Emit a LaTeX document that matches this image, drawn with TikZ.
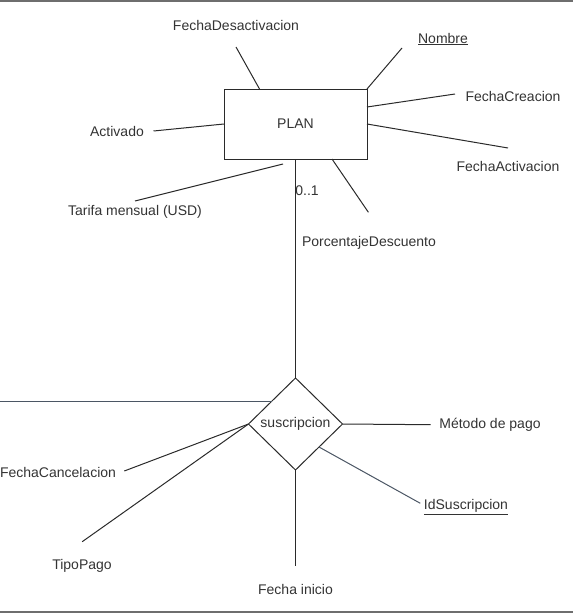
\documentclass[tikz,border=0pt]{standalone}
\usepackage{fontspec}
\setmainfont{Liberation Sans}
\usetikzlibrary{calc, shapes.geometric}

\definecolor{txtgray}{HTML}{333333}
\definecolor{linegray}{HTML}{2A2A2A}
\definecolor{slate}{HTML}{4B5664}
\definecolor{framegray}{HTML}{6E6E6E}

\begin{document}
\begin{tikzpicture}[x=1pt,y=-1pt,
  attr/.style={text=txtgray,font=\fontsize{14}{16}\selectfont,inner sep=0pt},
  link/.style={draw=linegray,line width=1pt},
  entity/.style={draw=linegray,line width=1pt,minimum width=143pt,minimum height=70pt,
    inner sep=0pt,outer sep=0pt,text=txtgray,font=\fontsize{14}{16}\selectfont},
  relation/.style={diamond,draw=linegray,line width=1pt,minimum width=94pt,minimum height=92pt,
    inner sep=0pt,outer sep=0pt,text=txtgray,font=\fontsize{14}{16}\selectfont}]

\useasboundingbox (0,0) rectangle (573,613);
\fill[framegray] (0,0) rectangle (573,1.8);
\fill[framegray] (0,611) rectangle (573,613);

\node[entity] (plan) at (295.5,124) {PLAN};
\node[relation] (susc) at (295.5,424) {suscripcion};

\node[attr] (desact) at (236,25) {FechaDesactivacion};
\node[attr] (nombre) at (443,39) {\underline{Nombre}};
\node[attr] (creacion) at (513,96) {FechaCreacion};
\node[attr] (activado) at (117,131) {Activado};
\node[attr] (activacion) at (508,166) {FechaActivacion};
\node[attr] (tarifa) at (135,212) {Tarifa mensual (USD)};
\node[attr] (card) at (307,191) {0..1};
\node[attr] (porcentaje) at (369,243) {PorcentajeDescuento};
\node[attr] (metodo) at (490,425) {Método de pago};
\node[attr] (cancel) at (58,472) {FechaCancelacion};
\node[attr] (tipopago) at (82,566) {TipoPago};
\node[attr] (inicio) at (295.5,589) {Fecha inicio};
\node[attr] (idsusc) at (466,507) {\underline{IdSuscripcion}};

\coordinate (desact-e) at (236,47);
\coordinate (nombre-e) at (402,48);
\coordinate (creacion-e) at (455,94);
\coordinate (activado-e) at (153.5,131);
\coordinate (activacion-e) at (508,148);
\coordinate (tarifa-e) at (135,201);
\coordinate (tarifa-f) at (283,164);
\coordinate (porcentaje-e) at (368.4,212.3);
\coordinate (left-e) at (0,401);
\coordinate (metodo-e) at (430.6,424.7);
\coordinate (cancel-e) at (124.3,471);
\coordinate (tipopago-e) at (82.2,541.7);
\coordinate (inicio-e) at (295.5,566);
\coordinate (idsusc-e) at (420.3,503.3);

\draw[link] (desact-e) -- ($(plan.north west)+(35.5,0)$);
\draw[link] (nombre-e) -- (plan.north east);
\draw[link] (creacion-e) -- ($(plan.north east)+(0,18)$);
\draw[link] (activado-e) -- (plan.west);
\draw[link] (activacion-e) -- (plan.east);
\draw[link] (tarifa-e) -- (tarifa-f);
\draw[link] (porcentaje-e) -- ($(plan.south west)+(108,0)$);
\draw[link] (plan.south) -- (susc.north);

\draw[link,draw=slate] (left-e) -- (susc.north west);
\draw[link] (susc.east) -- (metodo-e);
\draw[link] (cancel-e) -- (susc.west);
\draw[link] (tipopago-e) -- (susc.west);
\draw[link] (susc.south) -- (inicio-e);
\draw[link,draw=slate] (susc.south east) -- (idsusc-e);

\end{tikzpicture}
\end{document}
